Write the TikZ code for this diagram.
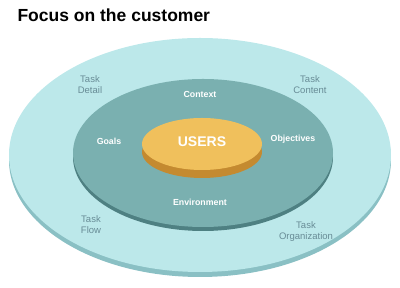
\documentclass[tikz,border=0pt]{standalone}
\usepackage{fontspec}
\setmainfont{Liberation Sans}
\usepackage{xcolor}

\begin{document}
\begin{tikzpicture}[x=1pt,y=1pt]
  \definecolor{lcyan}{RGB}{188,232,234}
  \definecolor{lcyanrim}{RGB}{138,192,196}
  \definecolor{lteal}{RGB}{122,176,176}
  \definecolor{ltealrim}{RGB}{78,128,130}
  \definecolor{lgold}{RGB}{240,192,92}
  \definecolor{lgoldrim}{RGB}{196,138,48}
  \definecolor{lgray}{RGB}{104,140,150}
  \tikzset{
    outerlabel/.style={font=\fontsize{9.5}{11}\selectfont\color{lgray},align=center},
    innerlabel/.style={font=\fontsize{8.8}{10}\selectfont\bfseries\color{white},align=center}
  }
  \useasboundingbox (0,0) rectangle (400,288);
  % outer ring
  \fill[lcyanrim] (200,128) ellipse (191 and 117);
  \fill[lcyan] (200,133) ellipse (191 and 117);
  % middle ring
  \fill[ltealrim] (203,131) ellipse (130 and 74);
  \fill[lteal] (203,135) ellipse (130 and 74);
  % users disc
  \fill[lgoldrim] (202,136) ellipse (60 and 26);
  \fill[lgold] (202,144) ellipse (60 and 26);
  \node[font=\fontsize{17.5}{20}\selectfont\bfseries,anchor=west] (title) at (14,273) {Focus on the customer};
  \node[font=\fontsize{14}{16}\selectfont\bfseries\color{white}] (users) at (202,146) {USERS};
  \node[outerlabel] (detail) at (90,203) {Task\\Detail};
  \node[outerlabel] (content) at (310,203) {Task\\Content};
  \node[outerlabel] (flow) at (91,63) {Task\\Flow};
  \node[outerlabel] (organization) at (306,56) {Task\\Organization};
  \node[innerlabel] (context) at (200,194) {Context};
  \node[innerlabel] (goals) at (109,147) {Goals};
  \node[innerlabel] (objectives) at (293,149) {Objectives};
  \node[innerlabel] (environment) at (200,86) {Environment};
\end{tikzpicture}
\end{document}
